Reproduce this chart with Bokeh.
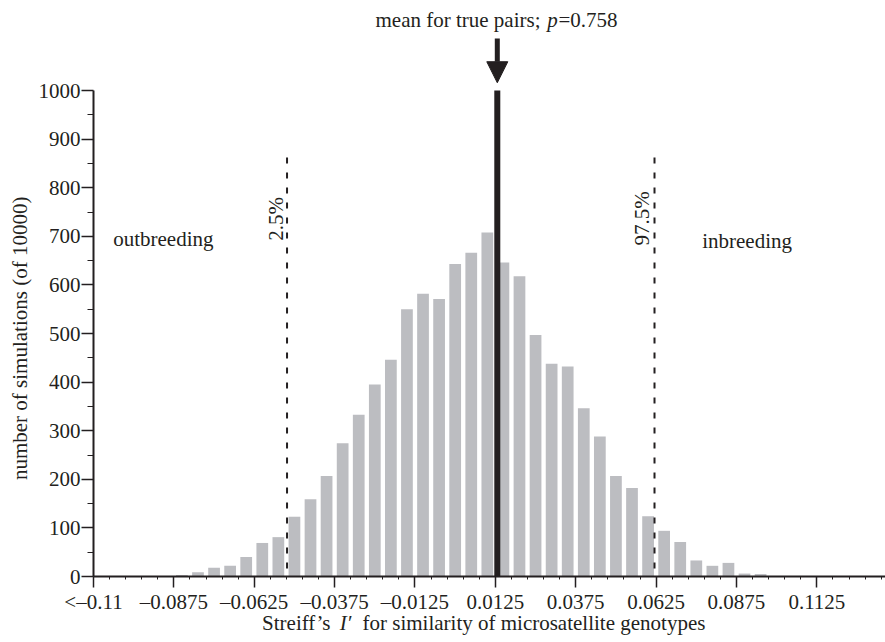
import math
from bokeh.plotting import figure
from bokeh.models import Range1d, FixedTicker, Label, Arrow, NormalHead, LinearAxis
from bokeh.embed import file_html
from bokeh.resources import INLINE

# ---- data ----
bin_centers = [-0.085, -0.080, -0.075, -0.070, -0.065, -0.060, -0.055, -0.050,
               -0.045, -0.040, -0.035, -0.030, -0.025, -0.020, -0.015, -0.010,
               -0.005, 0.000, 0.005, 0.010, 0.015, 0.020, 0.025, 0.030,
               0.035, 0.040, 0.045, 0.050, 0.055, 0.060, 0.065, 0.070,
               0.075, 0.080, 0.085, 0.090, 0.095]
counts = [3, 9, 18, 22, 40, 69, 81, 123,
          159, 207, 274, 333, 395, 446, 550, 582,
          571, 643, 666, 708, 646, 618, 497, 438,
          432, 346, 288, 207, 182, 124, 94, 71,
          33, 22, 28, 6, 5]
mean_true_pairs = 0.0131
lower_quantile = -0.0523   # 2.5%
upper_quantile = 0.0620    # 97.5%
quantile_top = 862
x_tick_values = [-0.1125, -0.0875, -0.0625, -0.0375, -0.0125,
                 0.0125, 0.0375, 0.0625, 0.0875, 0.1125]
x_tick_labels = ["<\u20130.11", "\u20130.0875", "\u20130.0625", "\u20130.0375", "\u20130.0125",
                 "0.0125", "0.0375", "0.0625", "0.0875", "0.1125"]
x_minor_ticks = [-0.1125 + 0.005 * i for i in range(50)]
y_ticks = [0, 100, 200, 300, 400, 500, 600, 700, 800, 900, 1000]
y_minor = [50, 150, 250, 350, 450, 550, 650, 750, 850, 950]
x_axis_start = -0.1125
x_axis_end = 0.13385

FONT = "Liberation Serif"
FS = "21px"
INK = "#231f20"
XPX = 3215.0   # pixels per x unit
YPX = 0.486    # pixels per y unit

p = figure(width=885, height=642, output_backend="svg", toolbar_location=None,
           x_axis_type=None, y_axis_type=None,
           x_range=Range1d(x_axis_start - 93 / XPX, x_axis_end),
           y_range=Range1d(-66 / YPX, 576 / YPX),
           min_border=0, min_border_left=0, min_border_right=0,
           min_border_top=0, min_border_bottom=0)
p.outline_line_color = None
p.background_fill_color = "white"

# bars
p.vbar(x=bin_centers, top=counts, width=0.00365, fill_color="#bcbdc1", line_color=None)

# quantile dashed lines
p.segment(x0=[lower_quantile, upper_quantile], y0=[quantile_top, quantile_top],
          x1=[lower_quantile, upper_quantile], y1=[0, 0],
          line_color=INK, line_width=2, line_dash="6 9")

# mean line
p.segment(x0=[mean_true_pairs], y0=[0], x1=[mean_true_pairs], y1=[1000],
          line_color=INK, line_width=6)

# arrow
p.add_layout(Arrow(end=NormalHead(size=21, fill_color=INK, line_color=INK, line_width=1),
                   x_start=mean_true_pairs, y_start=1107, x_end=mean_true_pairs, y_end=1016,
                   line_color=INK, line_width=5))

# axes placed at fixed data locations inside the frame
xa = LinearAxis(fixed_location=0,
                ticker=FixedTicker(ticks=x_tick_values, minor_ticks=x_minor_ticks),
                major_label_overrides={v: s for v, s in zip(x_tick_values, x_tick_labels)},
                bounds=(x_axis_start, x_axis_end))
ya = LinearAxis(fixed_location=x_axis_start,
                ticker=FixedTicker(ticks=y_ticks, minor_ticks=y_minor),
                bounds=(0, 1000))
for ax in (xa, ya):
    ax.axis_line_color = INK
    ax.axis_line_width = 2
    ax.major_tick_line_color = INK
    ax.major_tick_line_width = 1.5
    ax.minor_tick_line_color = INK
    ax.minor_tick_line_width = 1
    ax.major_tick_in = 0
    ax.minor_tick_in = 0
    ax.major_label_text_font = FONT
    ax.major_label_text_font_size = FS
    ax.major_label_text_color = INK
xa.major_tick_out = 11
xa.minor_tick_out = 3
xa.major_label_standoff = 2
ya.major_tick_out = 12
ya.minor_tick_out = 6
ya.major_label_standoff = 1
p.add_layout(xa, "below")
p.add_layout(ya, "left")


def lab(x, y, text, align="left", baseline="middle", angle=0.0, style="normal", xo=0):
    p.add_layout(Label(x=x, y=y, text=text, text_font=FONT, text_font_size=FS,
                       text_color=INK, text_align=align, text_baseline=baseline,
                       angle=angle, text_font_style=style, x_offset=xo))


# region labels
lab(-0.10637, 695, "outbreeding")
lab(0.07683, 691, "inbreeding")
lab(lower_quantile - 11.5 / XPX, 691, "2.5%", align="left", baseline="middle", angle=math.pi / 2)
lab(upper_quantile - 12.5 / XPX, 681, "97.5%", align="left", baseline="middle", angle=math.pi / 2)

# title over the arrow
px = 0.03369 - 11 / XPX
lab(px, 1146, "mean for true pairs;", align="right", xo=-12)
lab(px, 1146, "p", align="center", style="italic")
lab(px, 1146, "=0.758", align="left", xo=6)

# x-axis title
ix = x_axis_start + (345 - 93) / XPX
ty = -46 / YPX
lab(ix, ty, "Streiff\u2019s", align="right", xo=-15)
lab(ix, ty, "I\u2032", align="center", style="italic")
lab(ix, ty, "for similarity of microsatellite genotypes", align="left", xo=17)

# y-axis title
lab(x_axis_start - 73 / XPX, 490, "number of simulations (of 10000)", align="center",
    angle=math.pi / 2)

open("out.html", "w").write(file_html(p, INLINE))
